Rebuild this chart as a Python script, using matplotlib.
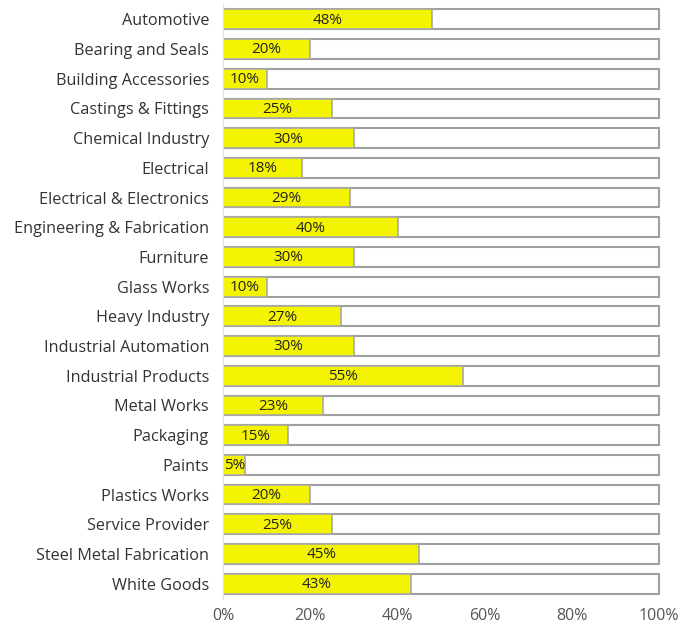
import matplotlib.pyplot as plt

industries = ["Automotive", "Bearing and Seals", "Building Accessories",
              "Castings & Fittings", "Chemical Industry", "Electrical",
              "Electrical & Electronics", "Engineering & Fabrication",
              "Furniture", "Glass Works", "Heavy Industry",
              "Industrial Automation", "Industrial Products", "Metal Works",
              "Packaging", "Paints", "Plastics Works", "Service Provider",
              "Steel Metal Fabrication", "White Goods"]
shares = [48, 20, 10, 25, 30, 18, 29, 40, 30, 10, 27, 30, 55, 23, 15, 5,
          20, 25, 45, 43]
ticks = [0, 20, 40, 60, 80, 100]

plt.rcParams['font.family'] = ['Open Sans', 'DejaVu Sans']

fig = plt.figure(figsize=(6.86, 6.26), dpi=100)
ax = fig.add_axes([223 / 686, 1 - 598.5 / 626, (661 - 223) / 686, 594 / 626])

y = list(range(len(industries)))
h = 0.67
# grey track behind each bar
ax.barh(y, [100] * len(y), height=h, color='white', edgecolor='#a0a0a0',
        linewidth=1.5, zorder=1)
ax.barh(y, shares, height=h, color='#f4f400', edgecolor='#a8a8a8',
        linewidth=1.2, zorder=2)

for yi, v in zip(y, shares):
    ax.text(max(v / 2, 2.6), yi + 0.03, f"{v}%", ha='center', va='center',
            fontsize=11, color='#222222', zorder=3)

ax.set_ylim(len(y) - 0.5, -0.5)
ax.set_xlim(0, 100.4)
ax.set_yticks(y)
ax.set_yticklabels(industries, fontsize=11.7, color='#333333')
ax.set_xticks(ticks)
ax.set_xticklabels([f"{t}%" for t in ticks], fontsize=11.5, color='#555555')
ax.tick_params(axis='y', length=0, pad=10)
ax.tick_params(axis='x', length=0, pad=7)
for s in ['top', 'right', 'bottom']:
    ax.spines[s].set_visible(False)
ax.spines['left'].set_color('#e0e0e0')

fig.savefig('out.png', dpi=100)
